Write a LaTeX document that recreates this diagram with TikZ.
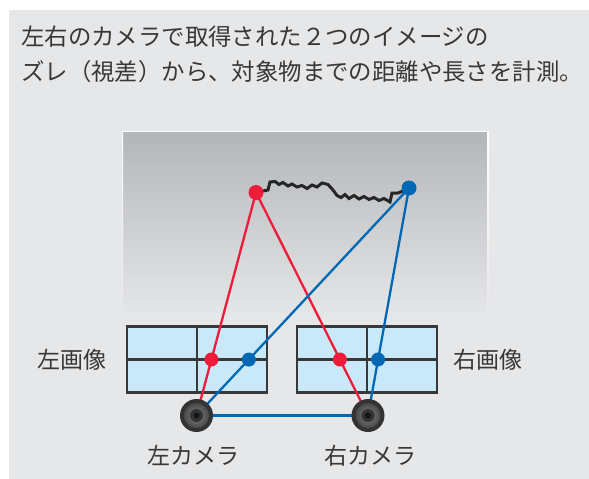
\documentclass[tikz,border=0pt]{standalone}
\usepackage{fontspec}
\setmainfont{Noto Sans CJK JP}
\usetikzlibrary{positioning, calc}

\definecolor{bggray}{HTML}{E6E7E9}
\definecolor{panelgray}{HTML}{B3B6B9}
\definecolor{inkgray}{HTML}{383838}
\definecolor{screen}{HTML}{C9E9F8}
\definecolor{rayred}{HTML}{EE1B3A}
\definecolor{rayblue}{HTML}{0068B4}

\begin{document}
\begin{tikzpicture}[
  x=1pt, y=-1pt,
  title/.style ={text=inkgray, inner sep=0pt, anchor=west, font=\fontsize{23.4}{24}\selectfont},
  lab/.style   ={text=inkgray, inner sep=0pt, font=\fontsize{23}{23}\selectfont},
  shot/.style  ={rectangle, draw=inkgray, line width=2.3pt, fill=screen,
                 minimum width=140pt, minimum height=66pt, inner sep=0pt},
  grid/.style  ={draw=inkgray, line width=2.2pt},
  dotR/.style  ={circle, fill=rayred, inner sep=0pt, minimum size=14pt},
  dotB/.style  ={circle, fill=rayblue, inner sep=0pt, minimum size=14pt},
  rayR/.style  ={draw=rayred, line width=2.3pt},
  rayB/.style  ={draw=rayblue, line width=2.3pt},
  crack/.style ={draw=black!85, line width=3pt, line join=miter},
  cam/.style   ={circle, inner sep=0pt, minimum size=33pt, fill=black!80,
                 path picture={
                   \shade[inner color=black!50, outer color=black!78]
                     (path picture bounding box.center) circle (12.5pt);
                   \fill[black!80] (path picture bounding box.center) circle (6.5pt);
                   \fill[black!92] (path picture bounding box.center) circle (3pt);
                 }}
]
\useasboundingbox (0,0) rectangle (589,479);

% ---------- Background and scene panel ----------
\fill[white] (0,0) rectangle (589,479);
\fill[bggray] (9,10) rectangle (589,479);
\shade[top color=panelgray, bottom color=bggray] (122,131) rectangle (488,318);
\draw[white, line width=1.2pt] (122,131.5) -- (488,131.5);
\shade[top color=white, bottom color=bggray] (487.2,131) rectangle (489,318);
\shade[top color=white!80!bggray, bottom color=bggray] (122,131) rectangle (123.2,318);

% ---------- Caption ----------
\node[title] (line1) at (21,37) {左右のカメラで取得された２つのイメージの};
\node[title] (line2) at (21,72) {ズレ（視差）から、対象物までの距離や長さを計測。};

% ---------- Image planes ----------
\node[shot] (boxL) at (197,359.5) {};
\node[shot] (boxR) at (367,359.5) {};
\draw[grid] (boxL.north) -- (boxL.south);
\draw[grid] (boxL.west)  -- (boxL.east);
\draw[grid] (boxR.north) -- (boxR.south);
\draw[grid] (boxR.west)  -- (boxR.east);

\node[lab, left=19pt of boxL]  (labL) {左画像};
\node[lab, right=15pt of boxR] (labR) {右画像};

% ---------- Object points and cameras ----------
\coordinate (camLc) at (196.5,415.5);
\coordinate (camRc) at (368,415.5);
\coordinate (ptRc)  at (256,192.5);
\coordinate (ptBc)  at (409,188);

% measured edge of the object
\draw[crack] (263,191) -- (268,190) -- (270,182) -- (275,181.5) -- (279,184.5)
  -- (283,182.5) -- (288,186) -- (292,184) -- (297,187) -- (302,185.5)
  -- (307,188.5) -- (312,185) -- (317,187) -- (322,183) -- (328,184.5)
  -- (333,190) -- (337,195.5) -- (341,197.5) -- (345,194.5) -- (349,198.5)
  -- (354,195.5) -- (359,199) -- (364,196.5) -- (369,199.5) -- (374,197.5)
  -- (379,200.5) -- (384,198.5) -- (390,202) -- (392,193) -- (398,193) -- (403,191);

% rays
\draw[rayR] (ptRc) -- (camLc);
\draw[rayR] (ptRc) -- (camRc);
\draw[rayB] (ptBc) -- (camLc);
\draw[rayB] (ptBc) -- (camRc);
\draw[rayB] (camLc) -- (camRc);

\node[dotR, minimum size=15pt] (ptR) at (ptRc) {};
\node[dotB, minimum size=15pt] (ptB) at (ptBc) {};

\node[dotR] (hitRL) at (intersection of ptRc--camLc and boxL.west--boxL.east) {};
\node[dotB] (hitBL) at (intersection of ptBc--camLc and boxL.west--boxL.east) {};
\node[dotR] (hitRR) at (intersection of ptRc--camRc and boxR.west--boxR.east) {};
\node[dotB] (hitBR) at (intersection of ptBc--camRc and boxR.west--boxR.east) {};

\node[cam] (camL) at (camLc) {};
\node[cam] (camR) at (camRc) {};

\node[lab, below=13pt of camL, xshift=-3pt] (labCL) {左カメラ};
\node[lab, below=13pt of camR, xshift=2pt]  (labCR) {右カメラ};

\end{tikzpicture}
\end{document}
